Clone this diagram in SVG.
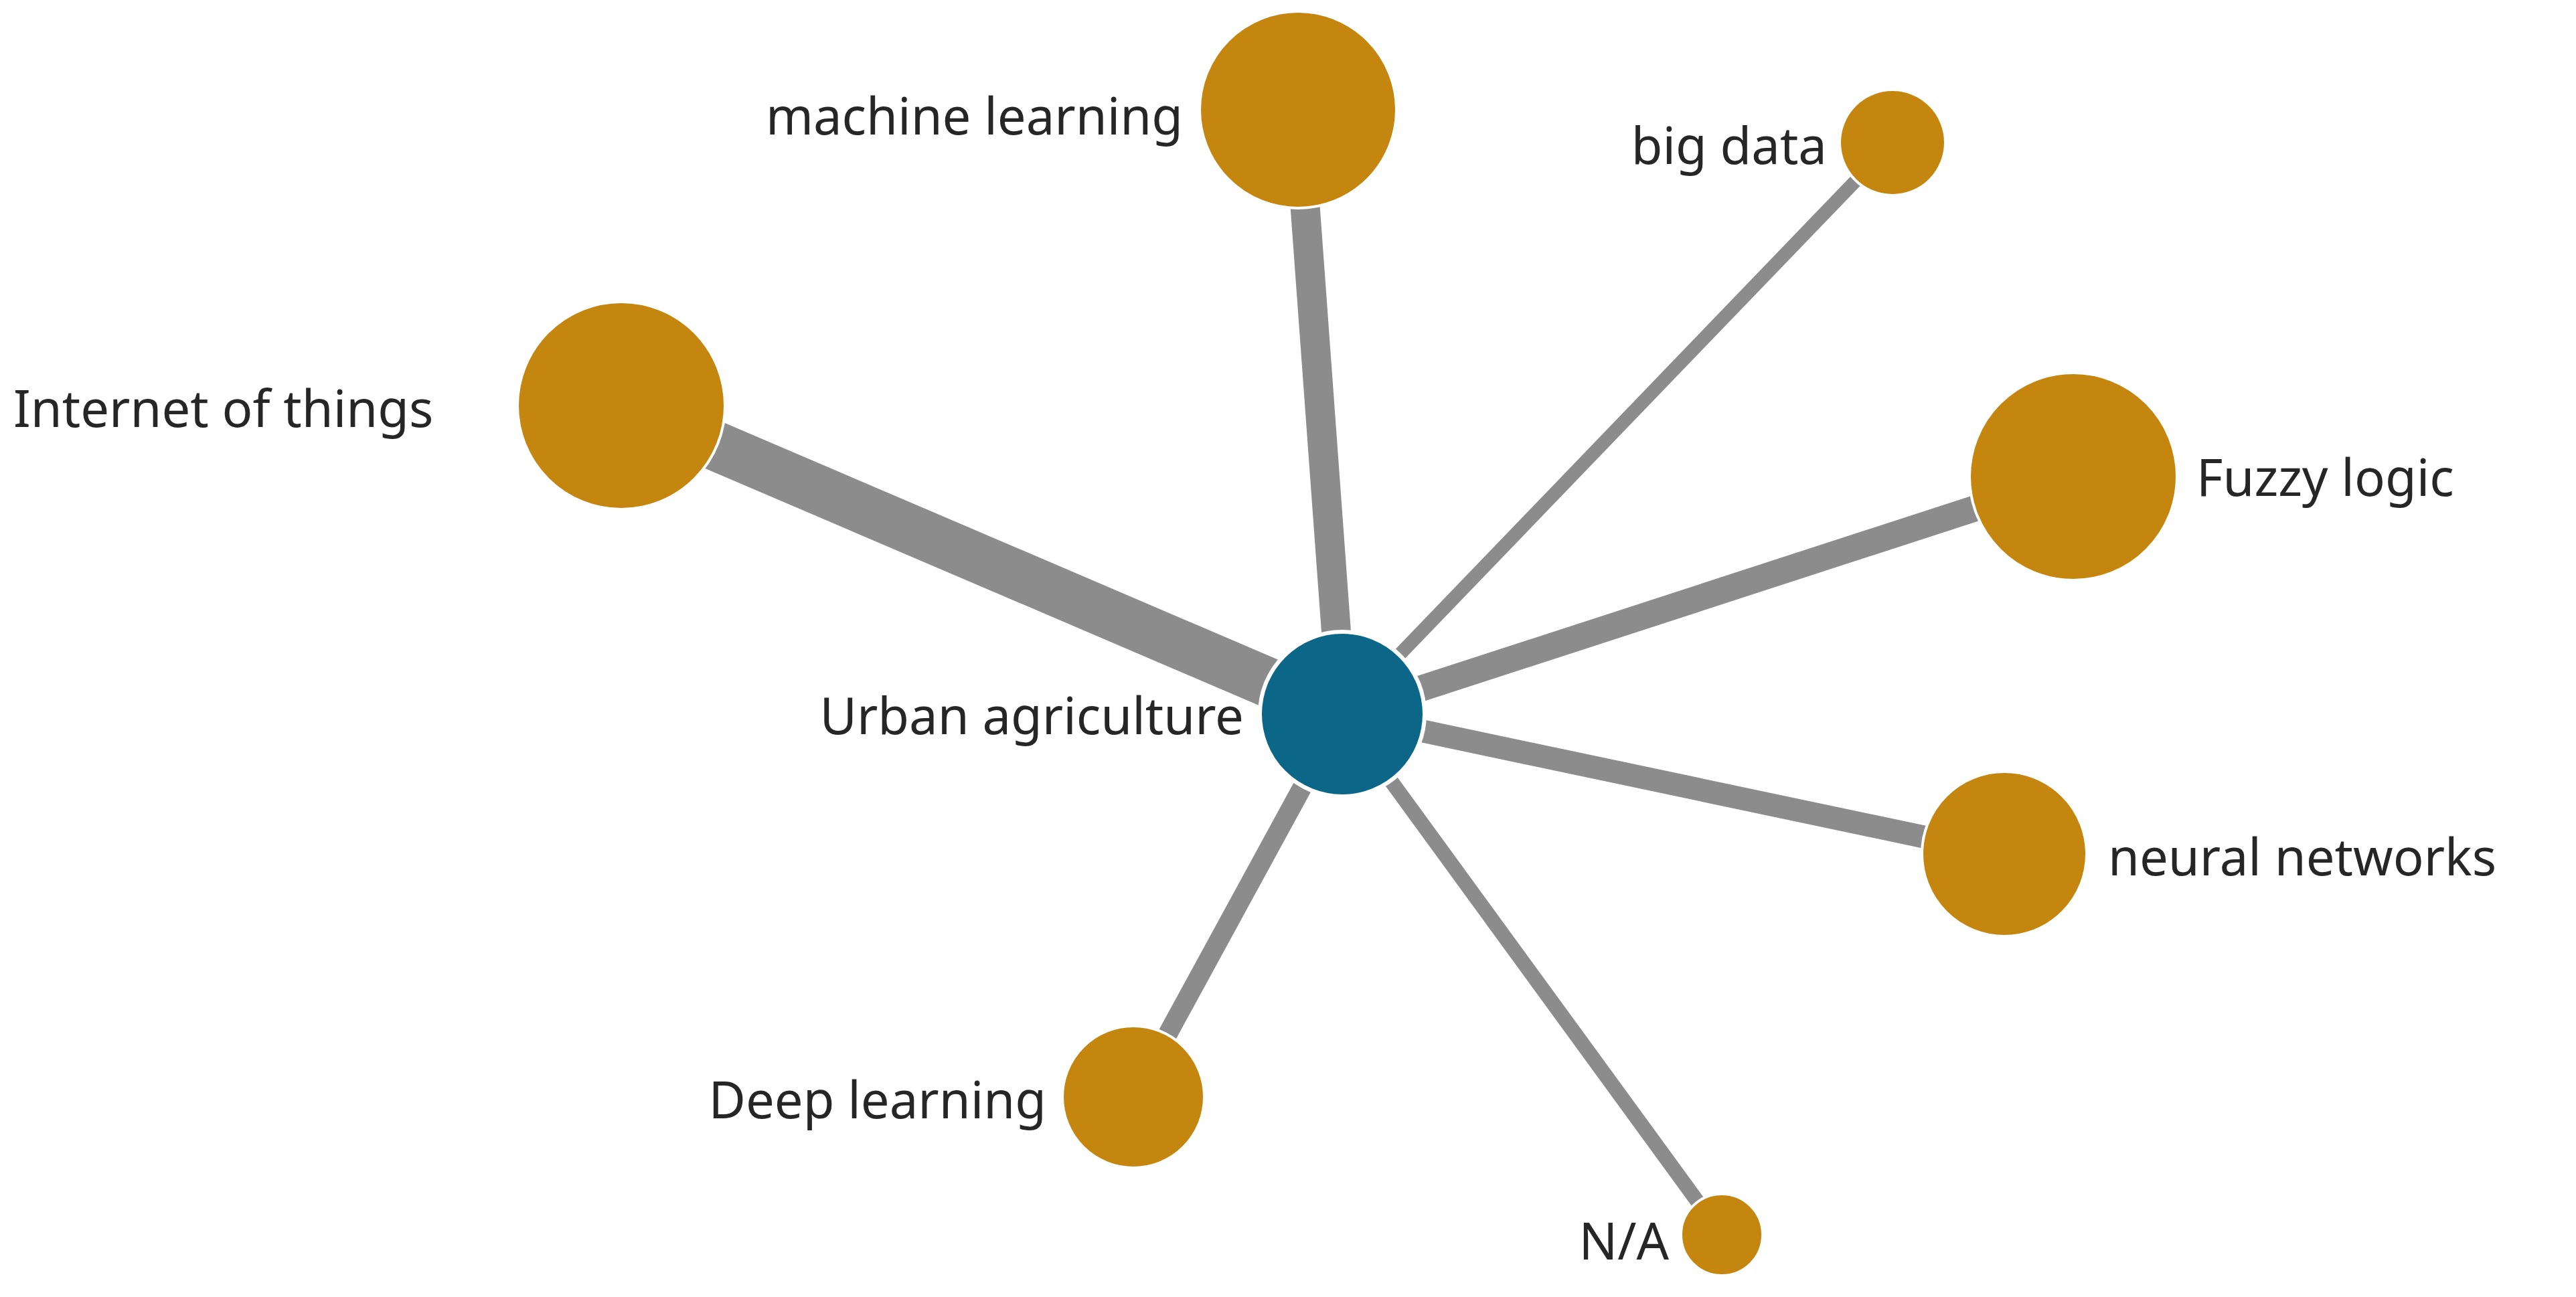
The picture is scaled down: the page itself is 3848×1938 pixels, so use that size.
<svg xmlns="http://www.w3.org/2000/svg" width="3848" height="1938" viewBox="0 0 3848 1938">
<style>
.e{stroke:#8c8c8c;stroke-linecap:butt}
.n{fill:#c4860f;stroke:#fff;stroke-width:4}
.c{fill:#0b6688;stroke:#fff;stroke-width:6}
text{font-family:"Noto Sans","Open Sans",sans-serif;font-size:76px;fill:#262626}
.r{text-anchor:end}
</style>
<rect width="3848" height="1938" fill="#fff"/>
<g id="edges">
<line class="e" x1="2005" y1="1067" x2="928" y2="606" stroke-width="74"/>
<line class="e" x1="2005" y1="1067" x2="1939" y2="164" stroke-width="44"/>
<line class="e" x1="2005" y1="1067" x2="2827" y2="213" stroke-width="20"/>
<line class="e" x1="2005" y1="1067" x2="3097" y2="712" stroke-width="39"/>
<line class="e" x1="2005" y1="1067" x2="2994" y2="1276" stroke-width="34"/>
<line class="e" x1="2005" y1="1067" x2="1693" y2="1639" stroke-width="29"/>
<line class="e" x1="2005" y1="1067" x2="2572" y2="1845" stroke-width="22"/>
</g>
<g id="machine-learning"><circle class="n" cx="1939" cy="164" r="147"/><text class="r" x="1767" y="201">machine learning</text></g>
<g id="big-data"><circle class="n" cx="2827" cy="213" r="79"/><text class="r" x="2729" y="245">big data</text></g>
<g id="internet-of-things"><circle class="n" cx="928" cy="606" r="155"/><text x="20" y="638">Internet of things</text></g>
<g id="fuzzy-logic"><circle class="n" cx="3097" cy="712" r="155"/><text x="3281" y="741">Fuzzy logic</text></g>
<g id="neural-networks"><circle class="n" cx="2994" cy="1276" r="123"/><text x="3149" y="1308">neural networks</text></g>
<g id="deep-learning"><circle class="n" cx="1693" cy="1639" r="106"/><text class="r" x="1563" y="1671">Deep learning</text></g>
<g id="na"><circle class="n" cx="2572" cy="1845" r="61"/><text class="r" x="2493" y="1882">N/A</text></g>
<g id="urban-agriculture"><circle class="c" cx="2005" cy="1067" r="123"/><text class="r" x="1858" y="1097">Urban agriculture</text></g>
</svg>
